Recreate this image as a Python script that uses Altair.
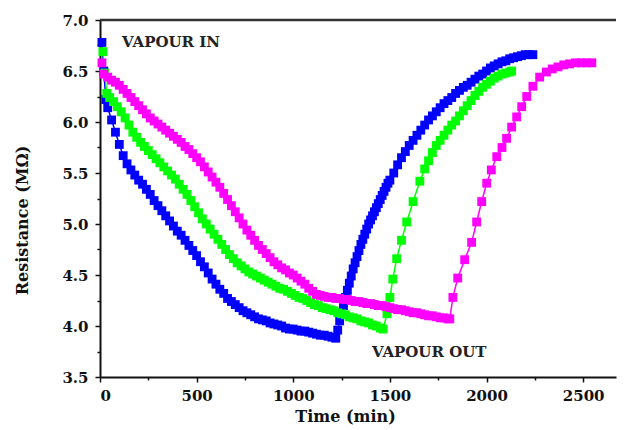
import altair as alt
import pandas as pd

# ---------------- data ----------------
blue_time = [10, 20, 30, 40, 60, 80, 100, 120, 140, 160, 180, 200, 220, 240, 260, 280, 300, 320, 340, 360,
             380, 400, 420, 440, 460, 480, 500, 520, 540, 560, 580, 600, 620, 640, 660, 680, 700, 720, 740, 760,
             780, 800, 820, 840, 860, 880, 900, 920, 940, 960, 980, 1000, 1020, 1040, 1060, 1080, 1100, 1120,
             1140, 1160, 1180, 1200, 1220,
             1230, 1240, 1250, 1260, 1270, 1280, 1290, 1300, 1310, 1320, 1330, 1340, 1350, 1360, 1370, 1380,
             1390, 1400, 1410, 1420, 1430, 1440, 1450, 1460, 1470, 1480, 1490, 1500, 1520, 1540,
             1560, 1580, 1600, 1620, 1640, 1660, 1680, 1700, 1720, 1740, 1760, 1780, 1800, 1820, 1840, 1860,
             1880, 1900, 1920, 1940, 1960, 1980, 2000, 2020, 2040, 2060, 2080, 2100, 2120, 2140, 2160, 2180,
             2200, 2220, 2240]
blue_res = [6.78, 6.50, 6.22, 6.14, 6.02, 5.90, 5.78, 5.67, 5.59, 5.53, 5.48, 5.43, 5.39, 5.34, 5.29, 5.23,
            5.18, 5.13, 5.08, 5.03, 4.98, 4.93, 4.89, 4.84, 4.79, 4.74, 4.69, 4.63, 4.58, 4.52, 4.46, 4.41,
            4.36, 4.32, 4.27, 4.24, 4.21, 4.18, 4.15, 4.13, 4.11, 4.09, 4.07, 4.06, 4.05, 4.03, 4.02, 4.01,
            4.00, 3.98, 3.97, 3.97, 3.96, 3.95, 3.95, 3.94, 3.93, 3.92, 3.91, 3.91, 3.90, 3.89, 3.88,
            3.96, 4.05, 4.13, 4.20, 4.28, 4.35, 4.42, 4.49, 4.56, 4.62, 4.68, 4.74, 4.80, 4.85, 4.90, 4.95,
            5.00, 5.04, 5.08, 5.12, 5.16, 5.20, 5.24, 5.28, 5.32, 5.36, 5.40, 5.43, 5.50, 5.58,
            5.65, 5.71, 5.77, 5.82, 5.87, 5.92, 5.97, 6.02, 6.06, 6.10, 6.14, 6.18, 6.21, 6.24, 6.28, 6.31,
            6.34, 6.36, 6.39, 6.42, 6.45, 6.47, 6.50, 6.53, 6.55, 6.57, 6.59, 6.60, 6.62, 6.63, 6.64, 6.65,
            6.66, 6.66, 6.66]

green_time = [15, 25, 35, 50, 70, 90, 110, 130, 150, 170, 190, 210, 230, 250, 270, 290, 310, 330, 350, 370,
              390, 410, 430, 450, 470, 490, 510, 530, 550, 570, 590, 610, 630, 650, 670, 690, 710, 730, 750,
              770, 790, 810, 830, 850, 870, 890, 910, 930, 950, 970, 990, 1010, 1030, 1050, 1070, 1090, 1110,
              1130, 1150, 1170, 1190, 1210, 1230, 1250, 1270, 1290, 1310, 1330, 1350, 1370, 1390, 1410, 1430,
              1450, 1465,
              1485, 1500, 1515, 1535, 1560, 1587, 1620, 1655, 1680, 1700, 1720, 1740, 1760, 1780, 1800, 1820,
              1840, 1860, 1880, 1900, 1920, 1940, 1960, 1980, 2000, 2020, 2040, 2060, 2080, 2100, 2120, 2130]
green_res = [6.69, 6.48, 6.28, 6.24, 6.20, 6.15, 6.10, 6.04, 5.97, 5.90, 5.85, 5.80, 5.76, 5.72, 5.68, 5.64,
             5.60, 5.56, 5.52, 5.48, 5.44, 5.39, 5.34, 5.29, 5.23, 5.17, 5.11, 5.05, 5.00, 4.95, 4.90, 4.85,
             4.80, 4.75, 4.70, 4.66, 4.62, 4.59, 4.56, 4.53, 4.51, 4.49, 4.47, 4.45, 4.43, 4.41, 4.39, 4.37,
             4.36, 4.34, 4.32, 4.30, 4.28, 4.27, 4.25, 4.23, 4.21, 4.20, 4.18, 4.17, 4.16, 4.15, 4.13, 4.12,
             4.11, 4.09, 4.08, 4.07, 4.05, 4.04, 4.03, 4.01, 4.00, 3.98, 3.97,
             4.12, 4.28, 4.46, 4.66, 4.84, 5.02, 5.22, 5.42, 5.54, 5.62, 5.70, 5.77, 5.82, 5.87, 5.92, 5.97,
             6.01, 6.06, 6.11, 6.16, 6.21, 6.26, 6.30, 6.34, 6.37, 6.40, 6.43, 6.45, 6.47, 6.48, 6.49, 6.50]

magenta_time = [10, 20, 40, 60, 80, 100, 120, 140, 160, 180, 200, 220, 240, 260, 280, 300, 320, 340, 360, 380,
                400, 420, 440, 460, 480, 500, 520, 540, 560, 580, 600, 620, 640, 660, 680, 700, 720, 740, 760,
                780, 800, 820, 840, 860, 880, 900, 920, 940, 960, 980, 1000, 1020, 1040, 1060, 1080, 1100,
                1120, 1140, 1160, 1180, 1200, 1220, 1240, 1260, 1280, 1300, 1320, 1340, 1360, 1380, 1400,
                1420, 1440, 1460, 1480, 1500, 1520, 1540, 1560, 1580, 1600, 1620, 1640, 1660, 1680, 1700,
                1720, 1740, 1760, 1780, 1800, 1810,
                1826, 1851, 1887, 1923, 1949, 1975, 2001, 2025, 2053, 2080, 2104, 2130, 2156, 2182, 2208, 2240,
                2275, 2310, 2340, 2370, 2400, 2430, 2460, 2490, 2520, 2545]
magenta_res = [6.58, 6.47, 6.44, 6.41, 6.39, 6.36, 6.32, 6.28, 6.24, 6.20, 6.16, 6.12, 6.08, 6.04, 6.01, 5.98,
               5.95, 5.92, 5.89, 5.86, 5.83, 5.80, 5.76, 5.73, 5.69, 5.65, 5.61, 5.56, 5.51, 5.46, 5.41, 5.36,
               5.30, 5.24, 5.18, 5.12, 5.06, 5.00, 4.94, 4.89, 4.84, 4.79, 4.75, 4.71, 4.67, 4.63, 4.60, 4.57,
               4.55, 4.52, 4.50, 4.47, 4.44, 4.41, 4.37, 4.34, 4.31, 4.30, 4.29, 4.28, 4.28, 4.27, 4.27, 4.26,
               4.26, 4.25, 4.24, 4.24, 4.23, 4.22, 4.22, 4.21, 4.20, 4.20, 4.19, 4.18, 4.17, 4.16, 4.16, 4.15,
               4.14, 4.13, 4.13, 4.12, 4.11, 4.10, 4.10, 4.09, 4.08, 4.08, 4.07, 4.07,
               4.28, 4.47, 4.65, 4.82, 5.02, 5.22, 5.40, 5.53, 5.66, 5.75, 5.84, 5.95, 6.05, 6.15, 6.25, 6.35,
               6.44, 6.49, 6.52, 6.54, 6.56, 6.57, 6.58, 6.58, 6.58, 6.58]

series_names = ["blue", "green", "magenta"]
series_colors = ["#0000FF", "#00FF00", "#FF00FF"]

x_ticks = [0, 250, 500, 750, 1000, 1250, 1500, 1750, 2000, 2250, 2500]
y_ticks = [3.5, 3.75, 4.0, 4.25, 4.5, 4.75, 5.0, 5.25, 5.5, 5.75, 6.0, 6.25, 6.5, 6.75, 7.0]

notes_text = ["VAPOUR IN", "VAPOUR OUT"]
notes_time = [114, 1407]
notes_res = [6.78, 3.745]

# ---------------- tables ----------------
rows = []
for name, ts, rs in zip(series_names,
                        [blue_time, green_time, magenta_time],
                        [blue_res, green_res, magenta_res]):
    for i, (t, r) in enumerate(zip(ts, rs)):
        rows.append({"series": name, "time": t, "res": r, "order": i})
df = pd.DataFrame(rows)
notes = pd.DataFrame({"text": notes_text, "time": notes_time, "res": notes_res})
frame = pd.DataFrame({"res": [7.0]})

W, H = 516, 357
FONT = "DejaVu Serif"

x_scale = alt.Scale(domain=[0, 2670], nice=False, zero=False)
y_scale = alt.Scale(domain=[3.5, 7.0], nice=False, zero=False)

x_axis = alt.Axis(
    title="Time (min)", values=x_ticks, format="d",
    labelExpr="datum.value % 500 === 0 ? datum.label : ''",
    tickSize={"condition": {"test": "datum.value % 500 === 0", "value": 5}, "value": 3},
    labelPadding=6, titleX=245, titleY=44, titleAlign="center", titleBaseline="alphabetic",
)
y_axis = alt.Axis(
    title="Resistance (M\u03a9)", values=y_ticks,
    labelExpr="abs(datum.value * 2 - round(datum.value * 2)) < 0.001 ? format(datum.value, '.1f') : ''",
    tickSize={"condition": {"test": "abs(datum.value * 2 - round(datum.value * 2)) < 0.001", "value": 5}, "value": 3},
    labelPadding=7, titleX=-78, titleY=200, titleAngle=270, titleAlign="center", titleBaseline="middle",
)

X = alt.X("time:Q", scale=x_scale, axis=x_axis)
Y = alt.Y("res:Q", scale=y_scale, axis=y_axis)
color = alt.Color("series:N", scale=alt.Scale(domain=series_names, range=series_colors), legend=None)

lines = alt.Chart(df).mark_line(strokeWidth=1.5).encode(
    x=X, y=Y, color=color, detail="series:N", order="order:Q")
points = alt.Chart(df).mark_square(size=78, opacity=1).encode(x=X, y=Y, color=color)
labels = alt.Chart(notes).mark_text(
    font=FONT, fontWeight="bold", fontSize=15, align="left", baseline="middle", color="#222222"
).encode(x=X, y=Y, text="text:N")
top = alt.Chart(frame).mark_rule(color="#333333", strokeWidth=2.5).encode(
    y=Y, x=alt.value(0), x2=alt.value(W))

chart = alt.layer(lines, points, labels, top).properties(
    width=W, height=H,
    autosize=alt.AutoSizeParams(type="none"),
    padding={"left": 92, "top": 12, "right": 1, "bottom": 53},
).configure_view(stroke=None).configure_axis(
    grid=False, domainColor="#111111", domainWidth=2, tickColor="#111111", tickWidth=1.5,
    labelFont=FONT, labelFontWeight="bold", labelFontSize=15, labelColor="#111111",
    titleFont=FONT, titleFontWeight="bold", titleFontSize=16, titleColor="#111111",
)

chart.save("out.html", embed_options={"renderer": "svg", "actions": False})
